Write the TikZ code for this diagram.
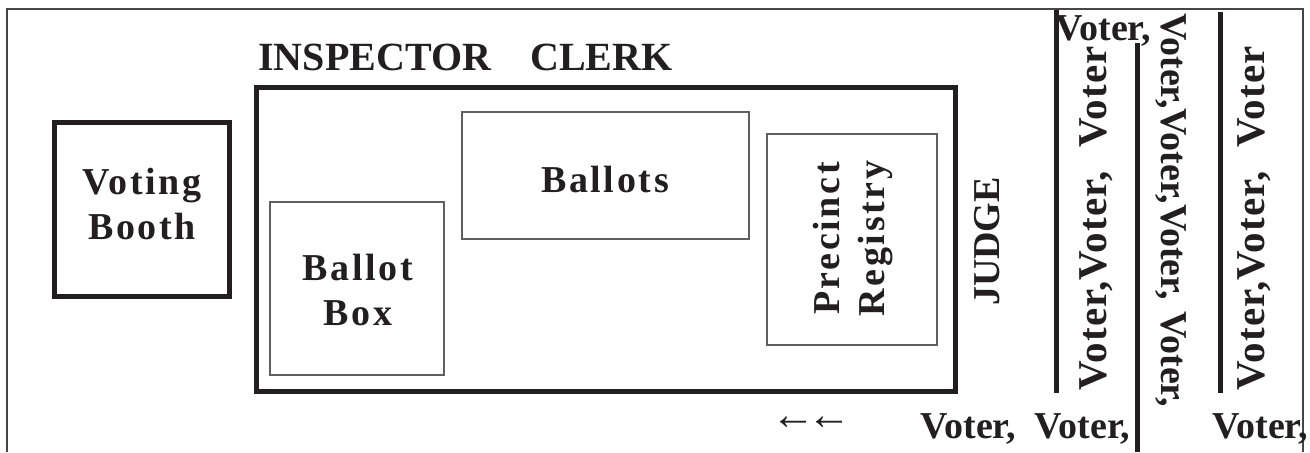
\documentclass[tikz,border=0pt]{standalone}
\usepackage{fontspec}
\setmainfont{Liberation Serif}
\usetikzlibrary{positioning}
\definecolor{frameGray}{RGB}{70,70,70}
\definecolor{boxGray}{RGB}{95,95,95}
\definecolor{inkBlack}{RGB}{35,31,32}

\tikzset{
  heavybox/.style={draw=inkBlack,line width=2.5pt},
  lightbox/.style={draw=boxGray,line width=0.7pt},
  queueline/.style={draw=inkBlack,line width=2.5pt},
  lbl/.style={text=inkBlack,inner sep=0pt,font=\fontsize{19}{22}\selectfont\bfseries},
  widecol/.style={text=inkBlack,inner sep=0pt,
    font=\fontsize{20.5}{22}\selectfont\bfseries\addfontfeatures{LetterSpace=3}},
  spaced/.style={text=inkBlack,inner sep=0pt,align=center,
    font=\fontsize{19}{22.5}\selectfont\bfseries\addfontfeatures{LetterSpace=7}},
}

\begin{document}
\begin{tikzpicture}[x=0.5pt,y=-0.5pt]
        \useasboundingbox (0,0) rectangle (1310,452);
        % frame
        \draw[frameGray,line width=0.8pt] (7,452) -- (7,9) -- (1303,9) -- (1303,452);
        % booth
        \draw[heavybox] (54.8,122.5) rectangle (229.8,296.8);
        \node[spaced] (booth) at (142,204) {Voting\\Booth};
        % table
        \draw[heavybox] (256,87.5) rectangle (955,391.5);
        \node[lbl,anchor=base west,font=\fontsize{20}{22}\selectfont\bfseries] (inspector) at (258,70) {INSPECTOR};
        \node[lbl,anchor=base west,font=\fontsize{20}{22}\selectfont\bfseries] (clerk) at (530,70) {CLERK};
        \draw[lightbox] (270,202) rectangle (444,375);
        \node[spaced] (ballotbox) at (358,290) {Ballot\\Box};
        \draw[lightbox] (462,112) rectangle (749,239);
        \node[spaced,anchor=base] (ballots) at (605,192) {Ballots};
        \draw[lightbox] (767,134) rectangle (937,345);
        \node[spaced,rotate=90] (registry) at (853,238.5) {Precinct\\Registry};
        \node[lbl,rotate=90,anchor=base] (judge) at (999,241.5) {JUDGE};
        % queue
        \draw[queueline] (1056.5,10) -- (1056.5,393);
        \draw[queueline] (1137.5,43) -- (1137.5,452);
        \draw[queueline] (1220.5,12) -- (1220.5,393);
        \node[lbl,anchor=base west] (vtop) at (1055,40) {Voter,};
        \node[widecol,anchor=base west,rotate=90] (vcolA) at (1106,391) {Voter,Voter,\hspace{12pt}Voter};
        \node[lbl,anchor=base west,rotate=-90] (vcolB) at (1161,13) {Voter,Voter,Voter,\hspace{6pt}Voter,};
        \node[widecol,anchor=base west,rotate=90] (vcolC) at (1264,391) {Voter,Voter,\hspace{12pt}Voter};
        \node[lbl,anchor=base west] (vrowA) at (920,438) {Voter,\ \ Voter,};
        \node[lbl,anchor=base west] (vrowB) at (1212,438) {Voter,};
        \node[text=inkBlack,inner sep=0pt,font=\fontsize{22}{24}\selectfont] (arrows) at (811,423) {←\kern-4pt←};
    \end{tikzpicture}
\end{document}
